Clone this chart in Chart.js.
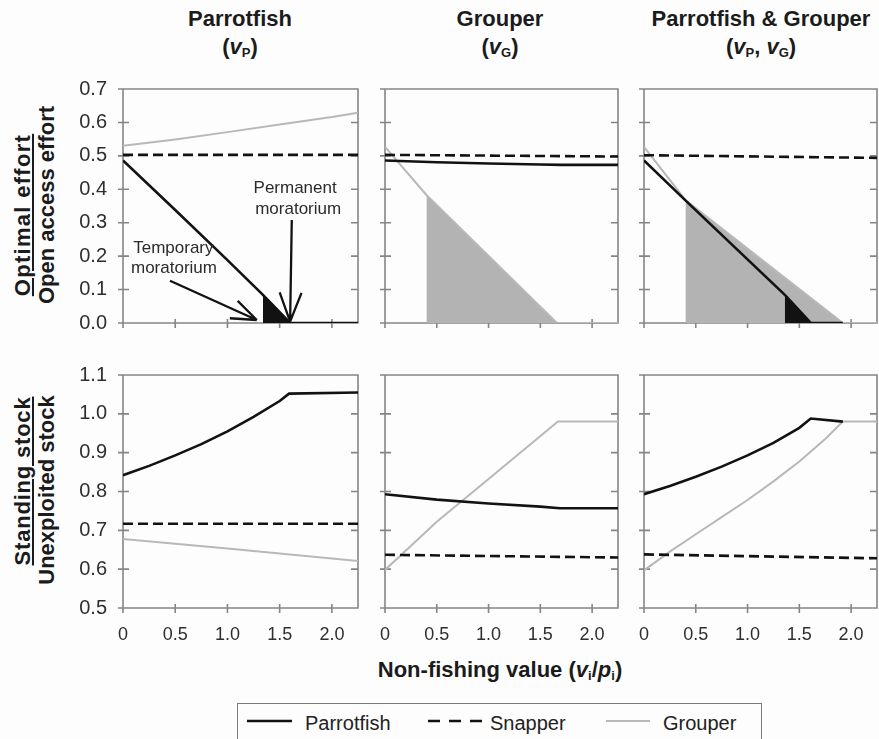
<!DOCTYPE html>
<html>
<head>
<meta charset="utf-8">
<script src="https://cdn.jsdelivr.net/npm/chart.js@4.4.1/dist/chart.umd.min.js"></script>
<style>
  html, body { margin: 0; padding: 0; background: #fdfdfd; }
  #fig { position: relative; width: 879px; height: 739px; overflow: hidden;
         font-family: "Liberation Sans", Arial, Helvetica, sans-serif; color: #1b1b1b; }
  #fig canvas { position: absolute; }
  .title { position: absolute; transform: translateX(-50%); font-weight: bold; font-size: 22px;
           line-height: 28px; text-align: center; white-space: nowrap; }
  .title sub, .xtitle sub { font-size: 13px; vertical-align: -3px; line-height: 0; }
  .ylab { position: absolute; left: 0; top: 0; transform-origin: 0 0; font-weight: bold;
          font-size: 22px; line-height: 24px; white-space: nowrap; }
  .ylab.num { text-decoration: underline; text-decoration-thickness: 2px; text-underline-offset: 2px; }
  .xtitle { position: absolute; transform: translateX(-50%); font-weight: bold; font-size: 22px;
            line-height: 26px; white-space: nowrap; }
  #legend { position: absolute; left: 237px; top: 703px; width: 525px; height: 50px;
            box-sizing: border-box; border: 1.5px solid #7a7a7a; }
  .lg { position: absolute; font-size: 20px; line-height: 24px; color: #222; white-space: nowrap; }
</style>
</head>
<body>
<div id="fig">
  <div class="title" style="left:240px;top:5px">Parrotfish<br>(<i>v</i><sub>P</sub>)</div>
  <div class="title" style="left:500px;top:5px">Grouper<br>(<i>v</i><sub>G</sub>)</div>
  <div class="title" style="left:761px;top:5px">Parrotfish &amp; Grouper<br>(<i>v</i><sub>P</sub>, <i>v</i><sub>G</sub>)</div>

  <div class="ylab num" style="transform:translate(23px,215px) rotate(-90deg) translate(-50%,-50%);letter-spacing:1.3px">Optimal effort</div>
  <div class="ylab" style="transform:translate(47px,205px) rotate(-90deg) translate(-50%,-50%)">Open access effort</div>
  <div class="ylab num" style="transform:translate(23px,481px) rotate(-90deg) translate(-50%,-50%);letter-spacing:0.8px">Standing stock</div>
  <div class="ylab" style="transform:translate(47px,490px) rotate(-90deg) translate(-50%,-50%)">Unexploited stock</div>

  <div class="xtitle" style="left:500px;top:657px">Non-fishing value (<i>v</i><sub>i</sub>/<i>p</i><sub>i</sub>)</div>

  <div id="legend"></div>
  <svg width="879" height="739" style="position:absolute;left:0;top:0;pointer-events:none">
    <line x1="247" y1="721" x2="292" y2="721" stroke="#111" stroke-width="2.6"/>
    <line x1="428" y1="721" x2="482" y2="721" stroke="#111" stroke-width="2.6" stroke-dasharray="12 9"/>
    <line x1="606" y1="721" x2="650" y2="721" stroke="#b8b8b8" stroke-width="2.2"/>
  </svg>
  <div class="lg" style="left:305px;top:711px">Parrotfish</div>
  <div class="lg" style="left:490px;top:711px">Snapper</div>
  <div class="lg" style="left:663px;top:711px">Grouper</div>
</div>

<script>
// ---- axes ----
const xTickValues = [0, 0.5, 1.0, 1.5, 2.0];
const xTickLabels = ['0', '0.5', '1.0', '1.5', '2.0'];
const effortTicks = [0, 0.1, 0.2, 0.3, 0.4, 0.5, 0.6, 0.7];
const stockTicks  = [0.5, 0.6, 0.7, 0.8, 0.9, 1.0, 1.1];

// ---- optimal effort / open access effort, parrotfish valued (vP) ----
const effP_parrotX  = [0, 0.5, 1.0, 1.34, 1.60, 2.25];
const effP_parrotY  = [0.486, 0.338, 0.188, 0.084, 0, 0];
const effP_snapperX = [0, 2.25];
const effP_snapperY = [0.503, 0.503];
const effP_grouperX = [0, 0.5, 1.0, 1.5, 2.0, 2.25];
const effP_grouperY = [0.530, 0.549, 0.571, 0.594, 0.616, 0.629];
const effP_tempX    = [1.34, 1.60];
const effP_tempY    = [0.084, 0];

// ---- optimal effort, grouper valued (vG) ----
const effG_parrotX  = [0, 0.5, 1.0, 1.5, 1.7, 2.25];
const effG_parrotY  = [0.486, 0.481, 0.477, 0.474, 0.473, 0.473];
const effG_snapperX = [0, 2.25];
const effG_snapperY = [0.503, 0.498];
const effG_grouperX = [0, 0.40, 1.66, 2.25];
const effG_grouperY = [0.527, 0.383, 0, 0];
const effG_shadeX   = [0.40, 1.66];
const effG_shadeY   = [0.383, 0];

// ---- optimal effort, both valued (vP, vG) ----
const effB_parrotX  = [0, 0.40, 1.36, 1.61, 1.92];
const effB_parrotY  = [0.486, 0.367, 0.084, 0, 0];
const effB_snapperX = [0, 2.25];
const effB_snapperY = [0.502, 0.494];
const effB_grouperX = [0, 0.40, 1.36, 1.92, 2.25];
const effB_grouperY = [0.527, 0.368, 0.135, 0, 0];
const effB_shadeX   = [0.40, 1.36, 1.92];
const effB_shadeY   = [0.368, 0.135, 0];
const effB_tempX    = [1.36, 1.61];
const effB_tempY    = [0.084, 0];

// ---- standing stock / unexploited stock, parrotfish valued (vP) ----
const stkP_parrotX  = [0, 0.25, 0.5, 0.75, 1.0, 1.25, 1.5, 1.59, 2.25];
const stkP_parrotY  = [0.842, 0.866, 0.893, 0.922, 0.955, 0.992, 1.033, 1.052, 1.055];
const stkP_snapperX = [0, 2.25];
const stkP_snapperY = [0.717, 0.717];
const stkP_grouperX = [0, 1.0, 2.25];
const stkP_grouperY = [0.678, 0.653, 0.621];

// ---- standing stock, grouper valued (vG) ----
const stkG_parrotX  = [0, 0.5, 1.0, 1.5, 1.69, 2.25];
const stkG_parrotY  = [0.793, 0.779, 0.769, 0.761, 0.757, 0.757];
const stkG_snapperX = [0, 2.25];
const stkG_snapperY = [0.637, 0.630];
const stkG_grouperX = [0, 0.5, 1.0, 1.67, 2.25];
const stkG_grouperY = [0.598, 0.722, 0.832, 0.98, 0.98];

// ---- standing stock, both valued (vP, vG) ----
const stkB_parrotX  = [0, 0.25, 0.5, 0.75, 1.0, 1.25, 1.5, 1.61, 1.92];
const stkB_parrotY  = [0.793, 0.814, 0.838, 0.864, 0.893, 0.925, 0.964, 0.988, 0.980];
const stkB_snapperX = [0, 2.25];
const stkB_snapperY = [0.638, 0.628];
const stkB_grouperX = [0, 0.25, 0.5, 0.75, 1.0, 1.25, 1.5, 1.75, 1.92, 2.25];
const stkB_grouperY = [0.597, 0.645, 0.690, 0.734, 0.778, 0.826, 0.877, 0.935, 0.980, 0.980];

// ---- drawing ----
const FONT = '"Liberation Sans", Arial, Helvetica, sans-serif';
Chart.defaults.font.family = FONT;

const COLS = [{ l: 123, r: 358 }, { l: 385, r: 618 }, { l: 644, r: 877 }];
const ROWS = [{ t: 89, b: 323 }, { t: 375, b: 608 }];
const Y_W = 60, X_H = 45, PAD_T = 15, PAD_R = 6;

const BLACK = '#121212', GREY = '#b8b8b8', SHADE = '#b3b3b3';

const pts = (xs, ys) => xs.map((x, i) => ({ x, y: ys[i] }));

const lineDs = (xs, ys, color, width, dash, order) => ({
  data: pts(xs, ys), borderColor: color, borderWidth: width, borderDash: dash,
  pointRadius: 0, fill: false, tension: 0, order
});
const areaDs = (xs, ys, color, order) => ({
  data: pts(xs, ys), fill: 'origin', backgroundColor: color,
  borderColor: 'rgba(0,0,0,0)', borderWidth: 0, pointRadius: 0, tension: 0, order
});

// fixed-size axis boxes, no extra room reserved for overhanging labels
const fixBox = (s, prop, size) => {
  s[prop] = size;
  s.paddingTop = 0; s.paddingBottom = 0; s.paddingLeft = 0; s.paddingRight = 0;
};

// frame with crossing ticks on the left/bottom and inner ticks on the right
const framePlugin = {
  id: 'panelFrame',
  beforeDatasetsDraw(chart) {
    const { ctx, chartArea: a, scales: { x, y } } = chart;
    ctx.save();
    ctx.strokeStyle = '#858585';
    ctx.lineWidth = 1.6;
    ctx.beginPath();
    ctx.rect(a.left, a.top, a.right - a.left, a.bottom - a.top);
    y.ticks.forEach(t => {
      const py = y.getPixelForValue(t.value);
      ctx.moveTo(a.left - 5, py); ctx.lineTo(a.left + 6, py);
      ctx.moveTo(a.right - 7, py); ctx.lineTo(a.right, py);
    });
    x.ticks.forEach(t => {
      const px = x.getPixelForValue(t.value);
      ctx.moveTo(px, a.bottom - 4); ctx.lineTo(px, a.bottom + 5);
    });
    ctx.stroke();
    ctx.restore();
  }
};

// moratorium notes with open arrowheads
const notesPlugin = {
  id: 'moratoriumNotes',
  afterDatasetsDraw(chart) {
    const { ctx, scales: { x, y } } = chart;
    const P = (vx, vy) => [x.getPixelForValue(vx), y.getPixelForValue(vy)];
    ctx.save();
    ctx.fillStyle = '#2b2b2b';
    ctx.font = '17px ' + FONT;
    ctx.textAlign = 'center';
    ctx.textBaseline = 'middle';
    [['Temporary', 0.482, 0.224], ['moratorium', 0.488, 0.164],
     ['Permanent', 1.648, 0.404], ['moratorium', 1.677, 0.340]].forEach(([s, vx, vy]) => {
      const [px, py] = P(vx, vy);
      ctx.fillText(s, px, py);
    });
    const arrow = (from, to, len) => {
      const ang = Math.atan2(to[1] - from[1], to[0] - from[0]);
      ctx.beginPath();
      ctx.moveTo(from[0], from[1]); ctx.lineTo(to[0], to[1]);
      [-0.36, 0.36].forEach(d => {
        ctx.moveTo(to[0], to[1]);
        ctx.lineTo(to[0] - len * Math.cos(ang + d), to[1] - len * Math.sin(ang + d));
      });
      ctx.stroke();
    };
    ctx.strokeStyle = BLACK;
    ctx.lineWidth = 2.3;
    ctx.lineCap = 'butt';
    arrow(P(0.45, 0.1265), P(1.281, 0.009), 27);
    arrow(P(1.616, 0.308), P(1.600, 0.004), 31);
    ctx.restore();
  }
};

function panel(row, col, yTicks, datasets, extraPlugins) {
  const c = COLS[col], r = ROWS[row];
  const cv = document.createElement('canvas');
  const w = (c.r - c.l) + Y_W + PAD_R;
  const h = (r.b - r.t) + PAD_T + X_H;
  cv.width = w; cv.height = h;
  cv.style.left = (c.l - Y_W) + 'px';
  cv.style.top = (r.t - PAD_T) + 'px';
  cv.style.width = w + 'px'; cv.style.height = h + 'px';
  document.getElementById('fig').appendChild(cv);

  new Chart(cv, {
    type: 'line',
    data: { datasets },
    options: {
      responsive: false,
      animation: false,
      devicePixelRatio: 1,
      events: [],
      layout: { padding: { top: PAD_T, right: PAD_R, left: 0, bottom: 0 } },
      plugins: { legend: { display: false }, tooltip: { enabled: false } },
      scales: {
        x: {
          type: 'linear', min: 0, max: 2.25,
          afterBuildTicks: s => { s.ticks = xTickValues.map(v => ({ value: v })); },
          afterFit: s => fixBox(s, 'height', X_H),
          grid: { display: false, drawTicks: false },
          border: { display: false },
          ticks: {
            display: row === 1, padding: 16, color: '#2e2e2e', font: { size: 18 },
            autoSkip: false, maxRotation: 0,
            callback: (v, i) => xTickLabels[i]
          }
        },
        y: {
          type: 'linear', min: yTicks[0], max: yTicks[yTicks.length - 1],
          afterBuildTicks: s => { s.ticks = yTicks.map(v => ({ value: v })); },
          afterFit: s => fixBox(s, 'width', Y_W),
          grid: { display: false, drawTicks: false },
          border: { display: false },
          ticks: {
            display: col === 0, padding: 16, color: '#2e2e2e', font: { size: 20 },
            autoSkip: false,
            callback: v => Number(v).toFixed(1)
          }
        }
      }
    },
    plugins: [framePlugin].concat(extraPlugins || [])
  });
}

const solid = [], dashed = [10, 5];

panel(0, 0, effortTicks, [
  lineDs(effP_parrotX, effP_parrotY, BLACK, 2.6, solid, 1),
  lineDs(effP_snapperX, effP_snapperY, BLACK, 2.6, dashed, 2),
  lineDs(effP_grouperX, effP_grouperY, GREY, 2, solid, 3),
  areaDs(effP_tempX, effP_tempY, BLACK, 4)
], [notesPlugin]);

panel(0, 1, effortTicks, [
  lineDs(effG_parrotX, effG_parrotY, BLACK, 2.6, solid, 1),
  lineDs(effG_snapperX, effG_snapperY, BLACK, 2.6, dashed, 2),
  lineDs(effG_grouperX, effG_grouperY, GREY, 2, solid, 3),
  areaDs(effG_shadeX, effG_shadeY, SHADE, 5)
]);

panel(0, 2, effortTicks, [
  lineDs(effB_parrotX, effB_parrotY, BLACK, 2.6, solid, 1),
  lineDs(effB_snapperX, effB_snapperY, BLACK, 2.6, dashed, 2),
  lineDs(effB_grouperX, effB_grouperY, GREY, 2, solid, 3),
  areaDs(effB_tempX, effB_tempY, BLACK, 4),
  areaDs(effB_shadeX, effB_shadeY, SHADE, 5)
]);

panel(1, 0, stockTicks, [
  lineDs(stkP_parrotX, stkP_parrotY, BLACK, 2.6, solid, 1),
  lineDs(stkP_snapperX, stkP_snapperY, BLACK, 2.6, dashed, 2),
  lineDs(stkP_grouperX, stkP_grouperY, GREY, 2, solid, 3)
]);

panel(1, 1, stockTicks, [
  lineDs(stkG_parrotX, stkG_parrotY, BLACK, 2.6, solid, 1),
  lineDs(stkG_snapperX, stkG_snapperY, BLACK, 2.6, dashed, 2),
  lineDs(stkG_grouperX, stkG_grouperY, GREY, 2, solid, 3)
]);

panel(1, 2, stockTicks, [
  lineDs(stkB_parrotX, stkB_parrotY, BLACK, 2.6, solid, 1),
  lineDs(stkB_snapperX, stkB_snapperY, BLACK, 2.6, dashed, 2),
  lineDs(stkB_grouperX, stkB_grouperY, GREY, 2, solid, 3)
]);
</script>
</body>
</html>
